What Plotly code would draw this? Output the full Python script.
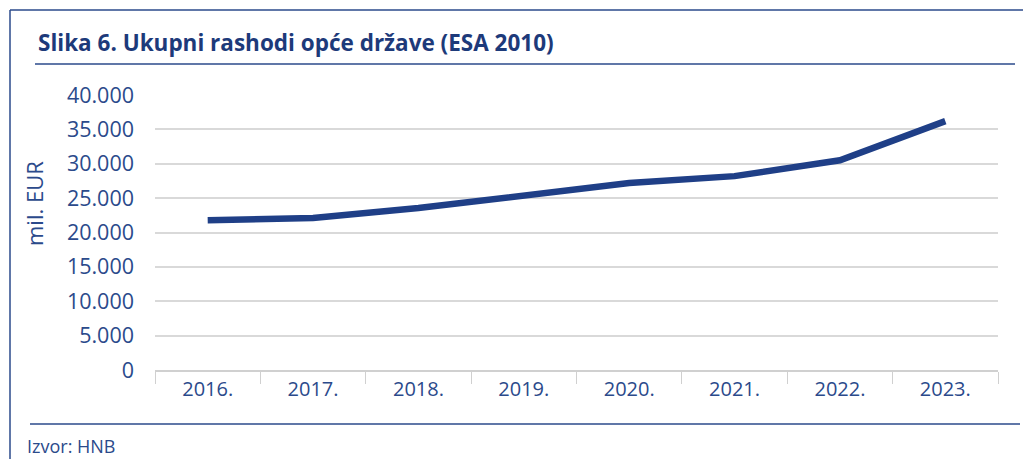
import plotly.graph_objects as go

# podaci
godine = ["2016.", "2017.", "2018.", "2019.", "2020.", "2021.", "2022.", "2023."]
rashodi = [21800, 22100, 23550, 25300, 27200, 28200, 30500, 36200]
y_tickovi = [0, 5000, 10000, 15000, 20000, 25000, 30000, 35000, 40000]
y_oznake = ["0", "5.000", "10.000", "15.000", "20.000", "25.000", "30.000", "35.000", "40.000"]

W, H = 1031, 459
OFF = 8  # body margin stranice
L, R, T, B = 155 - OFF, 33 + OFF, 95 - OFF, 89 + OFF
plava = "#1f3f87"
tekst = "#2b4a8b"
font = "Open Sans"


def px(x):
    # x u pikselima stranice -> paper
    return (x - OFF - L) / (W - L - R)


def py(y):
    return (H - B - (y - OFF)) / (H - T - B)


fig = go.Figure()
fig.add_trace(go.Scatter(x=godine, y=rashodi, mode="lines",
                         line=dict(color=plava, width=6.5), hoverinfo="x+y"))

linije = [
    (10, 10, 10, H + 20),   # okvir lijevo
    (10, 10, W + 20, 10),   # okvir gore
    (35, 64, 1015, 64),     # ispod naslova
    (30, 424, 1020, 424),   # ispod grafa
]
shapes = [dict(type="line", xref="paper", yref="paper",
               x0=px(a), y0=py(b), x1=px(c), y1=py(d),
               line=dict(color=tekst, width=1.5)) for a, b, c, d in linije]

fig.update_layout(
    width=W, height=H,
    margin=dict(l=L, r=R, t=T, b=B),
    paper_bgcolor="white", plot_bgcolor="white",
    showlegend=False,
    font=dict(family=font, color=tekst, size=18),
    shapes=shapes,
    annotations=[
        dict(text="<b>Slika 6. Ukupni rashodi opće države (ESA 2010)</b>",
             xref="paper", yref="paper", x=px(36), y=py(42),
             xanchor="left", yanchor="middle", showarrow=False,
             font=dict(size=22.5, color="#1d3a7a")),
        dict(text="mil. EUR", xref="paper", yref="paper", x=px(34), y=py(203),
             textangle=-90, xanchor="center", yanchor="middle", showarrow=False,
             font=dict(size=22, color=tekst)),
        dict(text="Izvor: HNB", xref="paper", yref="paper", x=px(25), y=py(446),
             xanchor="left", yanchor="middle", showarrow=False,
             font=dict(size=18, color=tekst)),
    ],
    xaxis=dict(type="category", tickson="boundaries", ticks="outside",
               ticklen=12, tickcolor="#d0d0d0", showline=True,
               linecolor="#d0d0d0", linewidth=1.5, showgrid=False,
               range=[-0.5, 7.5], tickfont=dict(size=20, color=tekst)),
    yaxis=dict(range=[0, 40000], tickvals=y_tickovi, ticktext=y_oznake,
               showgrid=True, gridcolor="#d9d9d9", gridwidth=1.5,
               zeroline=False, ticks="", ticklabelstandoff=20,
               tickfont=dict(size=21.5, color=tekst)),
)

fig.write_html("out.html")
